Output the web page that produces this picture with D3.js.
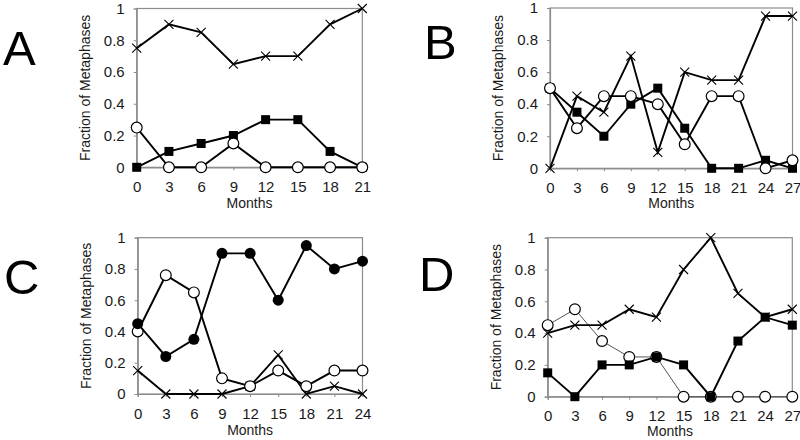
<!DOCTYPE html>
<html><head><meta charset="utf-8">
<script src="https://cdn.jsdelivr.net/npm/d3@7"></script>
<style>body{margin:0;background:#fff}svg{display:block;font-family:Arial,"Liberation Sans",sans-serif}</style>
</head><body><svg id="c" width="800" height="440"></svg>
<script>
// Panel A
const monthsA = [0,3,6,9,12,15,18,21];
const aCross  = [0.75,0.9,0.85,0.65,0.7,0.7,0.9,1.0];
const aSquare = [0,0.1,0.15,0.2,0.3,0.3,0.1,0];
const aCircle = [0.25,0,0,0.15,0,0,0,0];
// Panel B
const monthsB = [0,3,6,9,12,15,18,21,24,27];
const bCross  = [0,0.45,0.35,0.7,0.1,0.6,0.55,0.55,0.95,0.95];
const bSquare = [0.5,0.35,0.2,0.4,0.5,0.25,0,0,0.05,0];
const bCircle = [0.5,0.25,0.45,0.45,0.4,0.15,0.45,0.45,0,0.05];
// Panel C
const monthsC = [0,3,6,9,12,15,18,21,24];
const cFilled = [0.45,0.24,0.35,0.9,0.9,0.6,0.95,0.8,0.85];
const cCircle = [0.4,0.76,0.65,0.1,0.05,0.15,0.05,0.15,0.15];
const cCross  = [0.15,0,0,0,0.05,0.25,0,0.05,0];
// Panel D
const monthsD = [0,3,6,9,12,15,18,21,24,27];
const dCross  = [0.4,0.45,0.45,0.55,0.5,0.8,1.0,0.65,0.5,0.55];
const dSquare = [0.15,0,0.2,0.2,0.25,0.2,0,0.35,0.5,0.45];
const dCircle = [0.45,0.55,0.35,0.25,0.25,0,0,0,0,0];

const yTicks = [0,0.2,0.4,0.6,0.8,1];
const yTickLabels = ["0","0.2","0.4","0.6","0.8","1"];
const panelLetters = ["A","B","C","D"];
const xLabel = "Months";
const yLabel = "Fraction of Metaphases";

const svg = d3.select("#c");

const panels = [
  {letter:panelLetters[0], lx:3, ly:65, x0:136.7, x1:362.3, y0:167.3, y1:8.5, months:monthsA, tOff:41,
   series:[{v:aCross,m:"cross"},{v:aSquare,m:"square"},{v:aCircle,m:"circle"}]},
  {letter:panelLetters[1], lx:424, ly:59, x0:550, x1:792.5, y0:168.3, y1:8, months:monthsB, tOff:40,
   series:[{v:bCross,m:"cross"},{v:bSquare,m:"square"},{v:bCircle,m:"circle"}]},
  {letter:panelLetters[2], lx:4, ly:294, x0:137.7, x1:362.5, y0:394, y1:237.7, months:monthsC, tOff:41,
   series:[{v:cCross,m:"cross"},{v:cCircle,m:"circle"},{v:cFilled,m:"filled"}]},
  {letter:panelLetters[3], lx:419, ly:291, x0:547.7, x1:792.3, y0:396.7, y1:237.7, months:monthsD, tOff:39,
   series:[{v:dCircle,m:"circle",thin:true},{v:dCross,m:"cross"},{v:dSquare,m:"square"}]}
];

const axisColor = "#8c8c8c";
const fontFam = "Arial, 'Liberation Sans', sans-serif";

panels.forEach(p => {
  const xMax = p.months[p.months.length-1];
  const x = d3.scaleLinear().domain([0,xMax]).range([p.x0,p.x1]);
  const y = d3.scaleLinear().domain([0,1]).range([p.y0,p.y1]);
  const g = svg.append("g");

  svg.append("text").attr("x",p.lx).attr("y",p.ly).attr("font-size",49)
     .attr("fill","#000").text(p.letter);

  g.append("rect").attr("x",p.x0).attr("y",p.y1).attr("width",p.x1-p.x0).attr("height",p.y0-p.y1)
    .attr("fill","none").attr("stroke",axisColor).attr("stroke-width",1.2);

  const ya = g.append("g").attr("transform",`translate(${p.x0},0)`)
    .call(d3.axisLeft(y).tickValues(yTicks).tickFormat((d,i)=>yTickLabels[i]).tickSize(3).tickPadding(9));
  ya.select(".domain").attr("stroke",axisColor).attr("stroke-width",1.2);
  ya.selectAll(".tick line").attr("stroke",axisColor);
  ya.selectAll("text").attr("font-size",15).attr("fill","#1a1a1a").attr("font-family",fontFam);

  const xa = g.append("g").attr("transform",`translate(0,${p.y0})`)
    .call(d3.axisBottom(x).tickValues(p.months).tickFormat(d3.format("d")).tickSize(3).tickPadding(11));
  xa.select(".domain").attr("stroke",axisColor).attr("stroke-width",1.2);
  xa.selectAll(".tick line").attr("stroke",axisColor);
  xa.selectAll("text").attr("font-size",15).attr("fill","#1a1a1a").attr("font-family",fontFam);

  g.append("text").attr("x",(p.x0+p.x1)/2).attr("y",p.y0+p.tOff).attr("text-anchor","middle")
    .attr("font-size",14).attr("fill","#1a1a1a").text(xLabel);
  g.append("text").attr("transform",`translate(${p.x0-47},${(p.y0+p.y1)/2}) rotate(-90)`)
    .attr("text-anchor","middle").attr("font-size",14).attr("fill","#1a1a1a").text(yLabel);

  p.series.forEach(s => {
    const pts = p.months.map((m,i)=>[x(m),y(s.v[i])]);
    g.append("path").attr("d",d3.line()(pts)).attr("fill","none")
      .attr("stroke", s.thin ? "#555" : "#000").attr("stroke-width", s.thin ? 1 : 1.9);
    const mk = g.append("g");
    pts.forEach(([px,py]) => {
      if (s.m === "square") {
        mk.append("rect").attr("x",px-4.5).attr("y",py-4.5).attr("width",9).attr("height",9).attr("fill","#000");
      } else if (s.m === "circle") {
        mk.append("circle").attr("cx",px).attr("cy",py).attr("r",5.4).attr("fill","#fff").attr("stroke","#000").attr("stroke-width",1.2);
      } else if (s.m === "filled") {
        mk.append("circle").attr("cx",px).attr("cy",py).attr("r",5.5).attr("fill","#000");
      } else {
        const c = 4.5;
        mk.append("path").attr("d",`M${px-c},${py-c}L${px+c},${py+c}M${px-c},${py+c}L${px+c},${py-c}`)
          .attr("stroke","#000").attr("stroke-width",1.1).attr("fill","none");
      }
    });
  });
});
</script></body></html>
